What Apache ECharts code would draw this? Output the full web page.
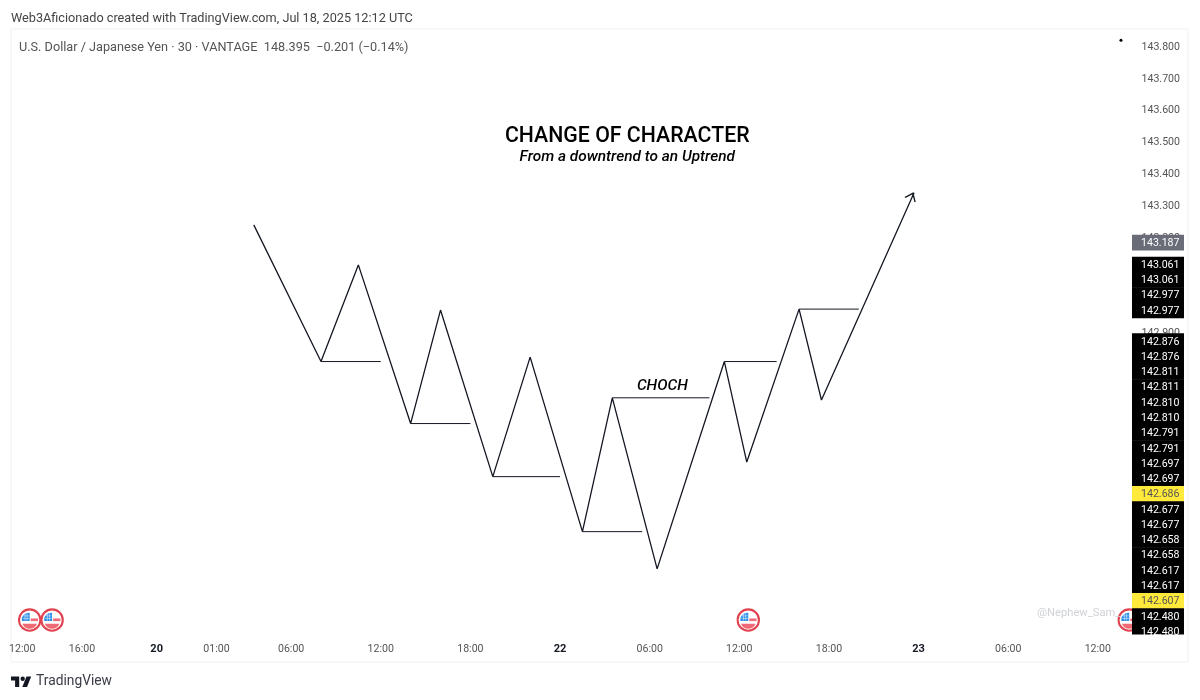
<!DOCTYPE html>
<html>
<head>
<meta charset="utf-8">
<title>USDJPY change of character</title>
<script src="https://cdn.jsdelivr.net/npm/echarts@6/dist/echarts.min.js"></script>
<style>
html, body { margin: 0; padding: 0; background: #fff; }
#chart { width: 1200px; height: 700px; }
</style>
</head>
<body>
<div id="chart"></div>
<script>
// x is counted in 30 minute bars from the "22" session mark
var tickBars = [-72, -64, -54, -46, -36, -24, -12, 0, 12, 24, 36, 48, 60, 72];
var tickLabels = ['12:00', '16:00', '20', '01:00', '06:00', '12:00', '18:00', '22', '06:00', '12:00', '18:00', '23', '06:00', '12:00'];
var priceTicks = [143.8, 143.7, 143.6, 143.5, 143.4, 143.3, 143.2, 142.9];

var swingBars = [-41, -32, -27, -20, -16, -9, -4, 3, 7, 13, 22, 25, 32, 35, 47.4];
var swingPrices = [143.241, 142.811, 143.115, 142.616, 142.973, 142.449, 142.825, 142.276, 142.697, 142.159, 142.811, 142.495, 142.976, 142.690, 143.342];

var levelStart = [-32, -20, -9, 3, 7, 22, 32];
var levelEnd = [-24, -12, 0, 11, 20, 29, 40];
var levelPrice = [142.811, 142.616, 142.449, 142.276, 142.697, 142.811, 142.976];

var eventBars = [-71, -68, 25.2, 76.2];
var eventPrice = 141.998;

var lastTag = '143.187';
var upperTags = ['143.061', '143.061', '142.977', '142.977'];
var lowerTags = ['142.876', '142.876', '142.811', '142.811', '142.810', '142.810', '142.791', '142.791', '142.697', '142.697',
    '142.686', '142.677', '142.677', '142.658', '142.658', '142.617', '142.617', '142.607', '142.480', '142.480'];
var yellowTags = ['142.686', '142.607'];

var INK = '#131722';
var FONT = 'Roboto';

var flagSvg = '<svg xmlns="http://www.w3.org/2000/svg" width="46" height="46" viewBox="0 0 46 46">' +
    '<circle cx="23" cy="23" r="20.5" fill="#fff" stroke="#e0434f" stroke-width="4"/>' +
    '<rect x="25" y="20" width="14" height="5" fill="#ef6a74"/>' +
    '<path d="M9 30h28a15 15 0 0 1-28 0z" fill="#ef6a74"/>' +
    '<path d="M8 25V19a14 14 0 0 1 15-10v16z" fill="#2f8fe8"/>' +
    '<path d="M11 15h11M10 20h12M14 11v13M18 10v14" stroke="#cfe6fb" stroke-width="1.2"/></svg>';
var flagSymbol = 'image://data:image/svg+xml;charset=utf-8,' + encodeURIComponent(flagSvg);

var series = [];

// main zigzag
series.push({
    type: 'line',
    symbol: 'none',
    silent: true,
    lineStyle: { color: INK, width: 1.3 },
    data: swingBars.map(function (b, i) { return [b, swingPrices[i]]; })
});

// broken structure levels
for (var i = 0; i < levelStart.length; i++) {
    series.push({
        type: 'line',
        symbol: 'none',
        silent: true,
        lineStyle: { color: INK, width: 1 },
        data: [[levelStart[i], levelPrice[i]], [levelEnd[i], levelPrice[i]]]
    });
}

// open arrow head on the last swing
series.push({
    type: 'scatter',
    silent: true,
    symbol: 'path://M0 9L6 0L12 9',
    symbolSize: [11, 7],
    symbolRotate: -24,
    itemStyle: { color: 'transparent', borderColor: INK, borderWidth: 1.2, opacity: 1 },
    data: [[47.05, 143.33]]
});

// economic event flags
series.push({
    type: 'scatter',
    silent: true,
    symbol: flagSymbol,
    symbolSize: 24,
    itemStyle: { opacity: 1 },
    data: eventBars.map(function (b) { return [b, eventPrice]; })
});

// stray dot top right
series.push({
    type: 'scatter',
    silent: true,
    symbol: 'circle',
    symbolSize: 3,
    itemStyle: { color: '#000', opacity: 1 },
    data: [[75.1, 143.822]]
});

// texts drawn on the chart
series.push({
    type: 'scatter',
    silent: true,
    symbolSize: 0,
    itemStyle: { opacity: 1 },
    data: [
        { value: [9.0, 143.518], label: { show: true, position: 'inside', formatter: 'CHANGE OF CHARACTER', fontFamily: FONT, fontSize: 21.3, fontWeight: 500, color: '#000', opacity: 1, padding: [4, 0, 0, 0] } },
        { value: [9.0, 143.455], label: { show: true, position: 'inside', formatter: 'From a downtrend to an Uptrend', fontFamily: FONT, fontSize: 15.4, fontStyle: 'italic', fontWeight: 500, color: '#000', opacity: 1, padding: [4, 0, 0, 0] } },
        { value: [13.7, 142.735], label: { show: true, position: 'inside', formatter: 'CHOCH', fontFamily: FONT, fontSize: 15.4, fontStyle: 'italic', fontWeight: 500, color: '#000', opacity: 1, padding: [2, 0, 0, 0] } }
    ]
});

var graphic = [
    { type: 'text', left: 11, top: 12, z: 50, style: { text: 'Web3Aficionado created with TradingView.com, Jul 18, 2025 12:12 UTC', font: '12.7px ' + FONT, fill: '#444' } },
    { type: 'text', left: 19, top: 41, z: 50, style: { text: 'U.S. Dollar / Japanese Yen · 30 · VANTAGE  148.395  −0.201 (−0.14%)', font: '12.7px ' + FONT, fill: '#555' } },
    { type: 'text', left: 1037, top: 608, z: 50, style: { text: '@Nephew_Sam_', font: '11.2px ' + FONT, fill: '#d0d2d8' } },
    { type: 'text', left: 36, top: 675, z: 50, style: { text: 'TradingView', font: '13.8px ' + FONT, fill: '#3a3d45' } },
    // TradingView logo
    { type: 'polygon', z: 50, shape: { points: [[11, 676.5], [19.2, 676.5], [19.2, 687], [15.1, 687], [15.1, 680.5], [11, 680.5]] }, style: { fill: INK } },
    { type: 'polygon', z: 50, shape: { points: [[26.5, 676.5], [31.2, 676.5], [27, 687], [22.3, 687]] }, style: { fill: INK } },
    { type: 'circle', z: 50, shape: { cx: 22.7, cy: 678.7, r: 2.2 }, style: { fill: INK } }
];

// price tags stacked on the scale
var TAG_X = 1132, TAG_W = 52, ROW = 15.27, TAG_FONT = '10.6px ' + FONT;
function addTag(text, cy, fill, color) {
    graphic.push({ type: 'rect', z: 60, shape: { x: TAG_X, y: cy - ROW / 2, width: TAG_W, height: ROW + 0.5 }, style: { fill: fill } });
    graphic.push({ type: 'text', z: 61, x: TAG_X + 9, y: cy + 1, style: { text: text, font: TAG_FONT, fill: color, textVerticalAlign: 'middle' } });
}
addTag(lastTag, 242.3, '#6a6d78', '#fff');
upperTags.forEach(function (t, i) { addTag(t, 264.3 + i * ROW, '#000', '#fff'); });
lowerTags.forEach(function (t, i) {
    var yellow = yellowTags.indexOf(t) >= 0;
    addTag(t, 341 + i * ROW, yellow ? '#ffe93b' : '#000', yellow ? '#555' : '#fff');
});
// last row is cut off by the scale edge
graphic.push({ type: 'rect', z: 62, shape: { x: TAG_X, y: 634.5, width: TAG_W, height: 10 }, style: { fill: '#fff' } });

var chart = echarts.init(document.getElementById('chart'));
chart.setOption({
    animation: false,
    backgroundColor: '#fff',
    grid: { left: 11, top: 29, width: 1177, height: 633, show: true, borderColor: '#f0f1f5', borderWidth: 1, backgroundColor: '#fff' },
    xAxis: {
        type: 'value',
        min: -73.5,
        max: 84.07,
        axisLine: { show: false },
        axisTick: { show: false },
        splitLine: { show: false },
        axisLabel: {
            inside: true,
            margin: 7,
            customValues: tickBars,
            fontFamily: FONT,
            fontSize: 10.6,
            color: '#555',
            hideOverlap: false,
            formatter: function (v) {
                var txt = tickLabels[tickBars.indexOf(v)];
                return txt.length == 2 ? '{day|' + txt + '}' : txt;
            },
            rich: { day: { fontFamily: FONT, fontSize: 11, fontWeight: 700, color: '#131722' } }
        }
    },
    yAxis: {
        type: 'value',
        position: 'right',
        min: 141.866,
        max: 143.857,
        axisLine: { show: false },
        axisTick: { show: false },
        splitLine: { show: false },
        axisLabel: {
            inside: true,
            margin: 8,
            customValues: priceTicks,
            fontFamily: FONT,
            fontSize: 10.6,
            color: '#555',
            padding: [4, 0, 0, 0],
            formatter: function (v) { return v.toFixed(3); }
        }
    },
    graphic: graphic,
    series: series
});
</script>
</body>
</html>
